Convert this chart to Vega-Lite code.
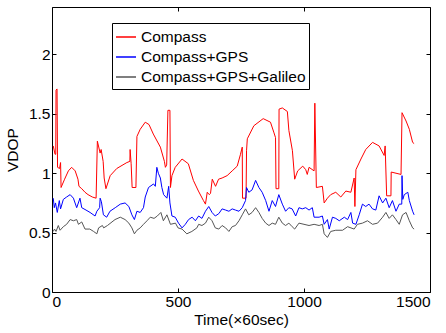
{
  "$schema": "https://vega.github.io/schema/vega-lite/v6.json",
  "autosize": "none",
  "width": 378,
  "height": 285,
  "padding": {"left": 52, "top": 7, "right": 16, "bottom": 41},
  "background": "white",
  "config": {
    "font": "Liberation Sans",
    "view": {"stroke": null},
    "axis": {
      "grid": false,
      "domainColor": "black",
      "domainWidth": 1,
      "tickColor": "black",
      "tickSize": -4,
      "labelPadding": 6,
      "labelFontSize": 15.5,
      "labelColor": "black",
      "titleFontSize": 15.5,
      "titleFontWeight": "normal",
      "titleColor": "black"
    },
    "legend": {
      "labelFontSize": 15.5,
      "labelColor": "black",
      "labelLimit": 400
    }
  },
  "datasets": {
    "d": [
      {"t": 5, "v": 1.23, "s": "Compass"},
      {"t": 12, "v": 1.16, "s": "Compass"},
      {"t": 15, "v": 1.16, "s": "Compass"},
      {"t": 16, "v": 1.70, "s": "Compass"},
      {"t": 20, "v": 1.71, "s": "Compass"},
      {"t": 22, "v": 1.05, "s": "Compass"},
      {"t": 30, "v": 1.04, "s": "Compass"},
      {"t": 34, "v": 1.09, "s": "Compass"},
      {"t": 36, "v": 0.88, "s": "Compass"},
      {"t": 50, "v": 0.95, "s": "Compass"},
      {"t": 65, "v": 1.02, "s": "Compass"},
      {"t": 78, "v": 1.05, "s": "Compass"},
      {"t": 92, "v": 1.02, "s": "Compass"},
      {"t": 103, "v": 0.95, "s": "Compass"},
      {"t": 107, "v": 0.89, "s": "Compass"},
      {"t": 118, "v": 0.87, "s": "Compass"},
      {"t": 131, "v": 0.84, "s": "Compass"},
      {"t": 143, "v": 0.82, "s": "Compass"},
      {"t": 160, "v": 0.80, "s": "Compass"},
      {"t": 175, "v": 0.79, "s": "Compass"},
      {"t": 180, "v": 1.27, "s": "Compass"},
      {"t": 191, "v": 1.17, "s": "Compass"},
      {"t": 195, "v": 1.20, "s": "Compass"},
      {"t": 203, "v": 1.10, "s": "Compass"},
      {"t": 207, "v": 0.96, "s": "Compass"},
      {"t": 214, "v": 0.87, "s": "Compass"},
      {"t": 231, "v": 0.98, "s": "Compass"},
      {"t": 257, "v": 1.04, "s": "Compass"},
      {"t": 297, "v": 1.09, "s": "Compass"},
      {"t": 309, "v": 1.10, "s": "Compass"},
      {"t": 310, "v": 1.20, "s": "Compass"},
      {"t": 314, "v": 1.08, "s": "Compass"},
      {"t": 318, "v": 0.88, "s": "Compass"},
      {"t": 333, "v": 0.88, "s": "Compass"},
      {"t": 337, "v": 1.31, "s": "Compass"},
      {"t": 350, "v": 1.37, "s": "Compass"},
      {"t": 370, "v": 1.43, "s": "Compass"},
      {"t": 385, "v": 1.41, "s": "Compass"},
      {"t": 402, "v": 1.33, "s": "Compass"},
      {"t": 430, "v": 1.22, "s": "Compass"},
      {"t": 446, "v": 1.10, "s": "Compass"},
      {"t": 450, "v": 1.05, "s": "Compass"},
      {"t": 455, "v": 1.07, "s": "Compass"},
      {"t": 460, "v": 1.53, "s": "Compass"},
      {"t": 468, "v": 1.53, "s": "Compass"},
      {"t": 470, "v": 0.88, "s": "Compass"},
      {"t": 476, "v": 0.98, "s": "Compass"},
      {"t": 489, "v": 1.05, "s": "Compass"},
      {"t": 516, "v": 1.12, "s": "Compass"},
      {"t": 541, "v": 1.08, "s": "Compass"},
      {"t": 561, "v": 0.94, "s": "Compass"},
      {"t": 581, "v": 0.85, "s": "Compass"},
      {"t": 601, "v": 0.77, "s": "Compass"},
      {"t": 609, "v": 0.74, "s": "Compass"},
      {"t": 616, "v": 0.84, "s": "Compass"},
      {"t": 624, "v": 0.82, "s": "Compass"},
      {"t": 629, "v": 0.83, "s": "Compass"},
      {"t": 636, "v": 0.95, "s": "Compass"},
      {"t": 649, "v": 0.89, "s": "Compass"},
      {"t": 661, "v": 0.95, "s": "Compass"},
      {"t": 675, "v": 0.96, "s": "Compass"},
      {"t": 695, "v": 0.98, "s": "Compass"},
      {"t": 715, "v": 1.02, "s": "Compass"},
      {"t": 735, "v": 1.06, "s": "Compass"},
      {"t": 748, "v": 1.16, "s": "Compass"},
      {"t": 755, "v": 1.22, "s": "Compass"},
      {"t": 756, "v": 0.79, "s": "Compass"},
      {"t": 770, "v": 0.79, "s": "Compass"},
      {"t": 772, "v": 1.19, "s": "Compass"},
      {"t": 775, "v": 1.29, "s": "Compass"},
      {"t": 801, "v": 1.40, "s": "Compass"},
      {"t": 838, "v": 1.46, "s": "Compass"},
      {"t": 867, "v": 1.43, "s": "Compass"},
      {"t": 881, "v": 1.34, "s": "Compass"},
      {"t": 887, "v": 1.30, "s": "Compass"},
      {"t": 889, "v": 0.87, "s": "Compass"},
      {"t": 900, "v": 0.87, "s": "Compass"},
      {"t": 901, "v": 1.54, "s": "Compass"},
      {"t": 914, "v": 1.55, "s": "Compass"},
      {"t": 934, "v": 1.52, "s": "Compass"},
      {"t": 940, "v": 1.36, "s": "Compass"},
      {"t": 954, "v": 1.19, "s": "Compass"},
      {"t": 963, "v": 0.95, "s": "Compass"},
      {"t": 975, "v": 1.02, "s": "Compass"},
      {"t": 995, "v": 1.06, "s": "Compass"},
      {"t": 1007, "v": 1.03, "s": "Compass"},
      {"t": 1013, "v": 0.99, "s": "Compass"},
      {"t": 1020, "v": 1.05, "s": "Compass"},
      {"t": 1040, "v": 1.02, "s": "Compass"},
      {"t": 1043, "v": 1.59, "s": "Compass"},
      {"t": 1049, "v": 0.88, "s": "Compass"},
      {"t": 1073, "v": 0.89, "s": "Compass"},
      {"t": 1080, "v": 0.75, "s": "Compass"},
      {"t": 1093, "v": 0.79, "s": "Compass"},
      {"t": 1106, "v": 0.82, "s": "Compass"},
      {"t": 1126, "v": 0.84, "s": "Compass"},
      {"t": 1146, "v": 0.80, "s": "Compass"},
      {"t": 1166, "v": 0.85, "s": "Compass"},
      {"t": 1186, "v": 0.84, "s": "Compass"},
      {"t": 1199, "v": 0.96, "s": "Compass"},
      {"t": 1202, "v": 0.72, "s": "Compass"},
      {"t": 1206, "v": 1.03, "s": "Compass"},
      {"t": 1226, "v": 1.12, "s": "Compass"},
      {"t": 1245, "v": 1.20, "s": "Compass"},
      {"t": 1272, "v": 1.26, "s": "Compass"},
      {"t": 1298, "v": 1.23, "s": "Compass"},
      {"t": 1318, "v": 1.15, "s": "Compass"},
      {"t": 1322, "v": 1.23, "s": "Compass"},
      {"t": 1328, "v": 0.81, "s": "Compass"},
      {"t": 1345, "v": 0.81, "s": "Compass"},
      {"t": 1346, "v": 1.01, "s": "Compass"},
      {"t": 1385, "v": 0.99, "s": "Compass"},
      {"t": 1389, "v": 1.51, "s": "Compass"},
      {"t": 1405, "v": 1.44, "s": "Compass"},
      {"t": 1418, "v": 1.37, "s": "Compass"},
      {"t": 1431, "v": 1.26, "s": "Compass"},
      {"t": 1437, "v": 1.25, "s": "Compass"},

      {"t": 5, "v": 0.79, "s": "Compass+GPS"},
      {"t": 9, "v": 0.71, "s": "Compass+GPS"},
      {"t": 14, "v": 0.75, "s": "Compass+GPS"},
      {"t": 21, "v": 0.67, "s": "Compass+GPS"},
      {"t": 29, "v": 0.77, "s": "Compass+GPS"},
      {"t": 34, "v": 0.70, "s": "Compass+GPS"},
      {"t": 45, "v": 0.78, "s": "Compass+GPS"},
      {"t": 58, "v": 0.80, "s": "Compass+GPS"},
      {"t": 72, "v": 0.82, "s": "Compass+GPS"},
      {"t": 85, "v": 0.79, "s": "Compass+GPS"},
      {"t": 98, "v": 0.71, "s": "Compass+GPS"},
      {"t": 111, "v": 0.79, "s": "Compass+GPS"},
      {"t": 118, "v": 0.71, "s": "Compass+GPS"},
      {"t": 135, "v": 0.69, "s": "Compass+GPS"},
      {"t": 151, "v": 0.67, "s": "Compass+GPS"},
      {"t": 171, "v": 0.64, "s": "Compass+GPS"},
      {"t": 178, "v": 0.68, "s": "Compass+GPS"},
      {"t": 189, "v": 0.71, "s": "Compass+GPS"},
      {"t": 191, "v": 0.79, "s": "Compass+GPS"},
      {"t": 196, "v": 0.76, "s": "Compass+GPS"},
      {"t": 204, "v": 0.65, "s": "Compass+GPS"},
      {"t": 217, "v": 0.63, "s": "Compass+GPS"},
      {"t": 230, "v": 0.68, "s": "Compass+GPS"},
      {"t": 251, "v": 0.71, "s": "Compass+GPS"},
      {"t": 271, "v": 0.74, "s": "Compass+GPS"},
      {"t": 290, "v": 0.75, "s": "Compass+GPS"},
      {"t": 305, "v": 0.72, "s": "Compass+GPS"},
      {"t": 317, "v": 0.65, "s": "Compass+GPS"},
      {"t": 327, "v": 0.61, "s": "Compass+GPS"},
      {"t": 337, "v": 0.68, "s": "Compass+GPS"},
      {"t": 350, "v": 0.67, "s": "Compass+GPS"},
      {"t": 363, "v": 0.71, "s": "Compass+GPS"},
      {"t": 370, "v": 0.80, "s": "Compass+GPS"},
      {"t": 383, "v": 0.88, "s": "Compass+GPS"},
      {"t": 403, "v": 0.91, "s": "Compass+GPS"},
      {"t": 410, "v": 0.89, "s": "Compass+GPS"},
      {"t": 416, "v": 1.05, "s": "Compass+GPS"},
      {"t": 422, "v": 1.00, "s": "Compass+GPS"},
      {"t": 430, "v": 0.96, "s": "Compass+GPS"},
      {"t": 436, "v": 0.88, "s": "Compass+GPS"},
      {"t": 443, "v": 0.82, "s": "Compass+GPS"},
      {"t": 456, "v": 0.79, "s": "Compass+GPS"},
      {"t": 463, "v": 0.89, "s": "Compass+GPS"},
      {"t": 468, "v": 0.75, "s": "Compass+GPS"},
      {"t": 476, "v": 0.64, "s": "Compass+GPS"},
      {"t": 489, "v": 0.63, "s": "Compass+GPS"},
      {"t": 502, "v": 0.58, "s": "Compass+GPS"},
      {"t": 516, "v": 0.54, "s": "Compass+GPS"},
      {"t": 529, "v": 0.57, "s": "Compass+GPS"},
      {"t": 542, "v": 0.61, "s": "Compass+GPS"},
      {"t": 556, "v": 0.63, "s": "Compass+GPS"},
      {"t": 569, "v": 0.60, "s": "Compass+GPS"},
      {"t": 582, "v": 0.64, "s": "Compass+GPS"},
      {"t": 595, "v": 0.62, "s": "Compass+GPS"},
      {"t": 609, "v": 0.68, "s": "Compass+GPS"},
      {"t": 622, "v": 0.72, "s": "Compass+GPS"},
      {"t": 635, "v": 0.67, "s": "Compass+GPS"},
      {"t": 648, "v": 0.64, "s": "Compass+GPS"},
      {"t": 662, "v": 0.66, "s": "Compass+GPS"},
      {"t": 675, "v": 0.70, "s": "Compass+GPS"},
      {"t": 689, "v": 0.69, "s": "Compass+GPS"},
      {"t": 702, "v": 0.68, "s": "Compass+GPS"},
      {"t": 715, "v": 0.70, "s": "Compass+GPS"},
      {"t": 728, "v": 0.69, "s": "Compass+GPS"},
      {"t": 742, "v": 0.68, "s": "Compass+GPS"},
      {"t": 755, "v": 0.71, "s": "Compass+GPS"},
      {"t": 768, "v": 0.77, "s": "Compass+GPS"},
      {"t": 772, "v": 0.88, "s": "Compass+GPS"},
      {"t": 781, "v": 0.84, "s": "Compass+GPS"},
      {"t": 794, "v": 0.86, "s": "Compass+GPS"},
      {"t": 808, "v": 0.94, "s": "Compass+GPS"},
      {"t": 821, "v": 0.88, "s": "Compass+GPS"},
      {"t": 834, "v": 0.84, "s": "Compass+GPS"},
      {"t": 848, "v": 0.77, "s": "Compass+GPS"},
      {"t": 861, "v": 0.68, "s": "Compass+GPS"},
      {"t": 874, "v": 0.77, "s": "Compass+GPS"},
      {"t": 887, "v": 0.72, "s": "Compass+GPS"},
      {"t": 900, "v": 0.82, "s": "Compass+GPS"},
      {"t": 914, "v": 0.74, "s": "Compass+GPS"},
      {"t": 927, "v": 0.68, "s": "Compass+GPS"},
      {"t": 940, "v": 0.71, "s": "Compass+GPS"},
      {"t": 953, "v": 0.70, "s": "Compass+GPS"},
      {"t": 967, "v": 0.64, "s": "Compass+GPS"},
      {"t": 980, "v": 0.71, "s": "Compass+GPS"},
      {"t": 993, "v": 0.70, "s": "Compass+GPS"},
      {"t": 1007, "v": 0.71, "s": "Compass+GPS"},
      {"t": 1020, "v": 0.69, "s": "Compass+GPS"},
      {"t": 1033, "v": 0.71, "s": "Compass+GPS"},
      {"t": 1040, "v": 0.63, "s": "Compass+GPS"},
      {"t": 1060, "v": 0.63, "s": "Compass+GPS"},
      {"t": 1073, "v": 0.64, "s": "Compass+GPS"},
      {"t": 1080, "v": 0.57, "s": "Compass+GPS"},
      {"t": 1093, "v": 0.61, "s": "Compass+GPS"},
      {"t": 1100, "v": 0.53, "s": "Compass+GPS"},
      {"t": 1113, "v": 0.63, "s": "Compass+GPS"},
      {"t": 1126, "v": 0.62, "s": "Compass+GPS"},
      {"t": 1140, "v": 0.60, "s": "Compass+GPS"},
      {"t": 1160, "v": 0.63, "s": "Compass+GPS"},
      {"t": 1173, "v": 0.61, "s": "Compass+GPS"},
      {"t": 1186, "v": 0.67, "s": "Compass+GPS"},
      {"t": 1193, "v": 0.58, "s": "Compass+GPS"},
      {"t": 1206, "v": 0.57, "s": "Compass+GPS"},
      {"t": 1219, "v": 0.65, "s": "Compass+GPS"},
      {"t": 1232, "v": 0.74, "s": "Compass+GPS"},
      {"t": 1245, "v": 0.72, "s": "Compass+GPS"},
      {"t": 1258, "v": 0.74, "s": "Compass+GPS"},
      {"t": 1272, "v": 0.70, "s": "Compass+GPS"},
      {"t": 1285, "v": 0.69, "s": "Compass+GPS"},
      {"t": 1298, "v": 0.81, "s": "Compass+GPS"},
      {"t": 1312, "v": 0.75, "s": "Compass+GPS"},
      {"t": 1325, "v": 0.79, "s": "Compass+GPS"},
      {"t": 1338, "v": 0.71, "s": "Compass+GPS"},
      {"t": 1351, "v": 0.77, "s": "Compass+GPS"},
      {"t": 1365, "v": 0.68, "s": "Compass+GPS"},
      {"t": 1378, "v": 0.74, "s": "Compass+GPS"},
      {"t": 1388, "v": 0.74, "s": "Compass+GPS"},
      {"t": 1389, "v": 0.98, "s": "Compass+GPS"},
      {"t": 1392, "v": 0.78, "s": "Compass+GPS"},
      {"t": 1398, "v": 0.82, "s": "Compass+GPS"},
      {"t": 1412, "v": 0.84, "s": "Compass+GPS"},
      {"t": 1418, "v": 0.77, "s": "Compass+GPS"},
      {"t": 1431, "v": 0.68, "s": "Compass+GPS"},
      {"t": 1437, "v": 0.65, "s": "Compass+GPS"},

      {"t": 5, "v": 0.51, "s": "Compass+GPS+Galileo"},
      {"t": 10, "v": 0.53, "s": "Compass+GPS+Galileo"},
      {"t": 16, "v": 0.51, "s": "Compass+GPS+Galileo"},
      {"t": 25, "v": 0.56, "s": "Compass+GPS+Galileo"},
      {"t": 32, "v": 0.52, "s": "Compass+GPS+Galileo"},
      {"t": 45, "v": 0.55, "s": "Compass+GPS+Galileo"},
      {"t": 58, "v": 0.57, "s": "Compass+GPS+Galileo"},
      {"t": 72, "v": 0.61, "s": "Compass+GPS+Galileo"},
      {"t": 85, "v": 0.60, "s": "Compass+GPS+Galileo"},
      {"t": 98, "v": 0.61, "s": "Compass+GPS+Galileo"},
      {"t": 105, "v": 0.57, "s": "Compass+GPS+Galileo"},
      {"t": 118, "v": 0.59, "s": "Compass+GPS+Galileo"},
      {"t": 131, "v": 0.53, "s": "Compass+GPS+Galileo"},
      {"t": 150, "v": 0.53, "s": "Compass+GPS+Galileo"},
      {"t": 165, "v": 0.51, "s": "Compass+GPS+Galileo"},
      {"t": 178, "v": 0.49, "s": "Compass+GPS+Galileo"},
      {"t": 185, "v": 0.54, "s": "Compass+GPS+Galileo"},
      {"t": 200, "v": 0.56, "s": "Compass+GPS+Galileo"},
      {"t": 205, "v": 0.54, "s": "Compass+GPS+Galileo"},
      {"t": 220, "v": 0.56, "s": "Compass+GPS+Galileo"},
      {"t": 250, "v": 0.61, "s": "Compass+GPS+Galileo"},
      {"t": 271, "v": 0.63, "s": "Compass+GPS+Galileo"},
      {"t": 290, "v": 0.61, "s": "Compass+GPS+Galileo"},
      {"t": 305, "v": 0.58, "s": "Compass+GPS+Galileo"},
      {"t": 317, "v": 0.54, "s": "Compass+GPS+Galileo"},
      {"t": 327, "v": 0.49, "s": "Compass+GPS+Galileo"},
      {"t": 337, "v": 0.52, "s": "Compass+GPS+Galileo"},
      {"t": 350, "v": 0.54, "s": "Compass+GPS+Galileo"},
      {"t": 363, "v": 0.57, "s": "Compass+GPS+Galileo"},
      {"t": 377, "v": 0.60, "s": "Compass+GPS+Galileo"},
      {"t": 390, "v": 0.63, "s": "Compass+GPS+Galileo"},
      {"t": 405, "v": 0.62, "s": "Compass+GPS+Galileo"},
      {"t": 418, "v": 0.64, "s": "Compass+GPS+Galileo"},
      {"t": 432, "v": 0.67, "s": "Compass+GPS+Galileo"},
      {"t": 442, "v": 0.60, "s": "Compass+GPS+Galileo"},
      {"t": 456, "v": 0.65, "s": "Compass+GPS+Galileo"},
      {"t": 470, "v": 0.57, "s": "Compass+GPS+Galileo"},
      {"t": 490, "v": 0.58, "s": "Compass+GPS+Galileo"},
      {"t": 500, "v": 0.54, "s": "Compass+GPS+Galileo"},
      {"t": 516, "v": 0.53, "s": "Compass+GPS+Galileo"},
      {"t": 535, "v": 0.49, "s": "Compass+GPS+Galileo"},
      {"t": 555, "v": 0.51, "s": "Compass+GPS+Galileo"},
      {"t": 575, "v": 0.54, "s": "Compass+GPS+Galileo"},
      {"t": 582, "v": 0.57, "s": "Compass+GPS+Galileo"},
      {"t": 595, "v": 0.56, "s": "Compass+GPS+Galileo"},
      {"t": 609, "v": 0.58, "s": "Compass+GPS+Galileo"},
      {"t": 622, "v": 0.63, "s": "Compass+GPS+Galileo"},
      {"t": 635, "v": 0.60, "s": "Compass+GPS+Galileo"},
      {"t": 648, "v": 0.54, "s": "Compass+GPS+Galileo"},
      {"t": 662, "v": 0.53, "s": "Compass+GPS+Galileo"},
      {"t": 675, "v": 0.56, "s": "Compass+GPS+Galileo"},
      {"t": 689, "v": 0.54, "s": "Compass+GPS+Galileo"},
      {"t": 702, "v": 0.51, "s": "Compass+GPS+Galileo"},
      {"t": 715, "v": 0.55, "s": "Compass+GPS+Galileo"},
      {"t": 728, "v": 0.56, "s": "Compass+GPS+Galileo"},
      {"t": 742, "v": 0.60, "s": "Compass+GPS+Galileo"},
      {"t": 755, "v": 0.65, "s": "Compass+GPS+Galileo"},
      {"t": 768, "v": 0.70, "s": "Compass+GPS+Galileo"},
      {"t": 781, "v": 0.65, "s": "Compass+GPS+Galileo"},
      {"t": 794, "v": 0.67, "s": "Compass+GPS+Galileo"},
      {"t": 808, "v": 0.71, "s": "Compass+GPS+Galileo"},
      {"t": 821, "v": 0.67, "s": "Compass+GPS+Galileo"},
      {"t": 834, "v": 0.62, "s": "Compass+GPS+Galileo"},
      {"t": 848, "v": 0.58, "s": "Compass+GPS+Galileo"},
      {"t": 861, "v": 0.56, "s": "Compass+GPS+Galileo"},
      {"t": 874, "v": 0.58, "s": "Compass+GPS+Galileo"},
      {"t": 887, "v": 0.57, "s": "Compass+GPS+Galileo"},
      {"t": 900, "v": 0.63, "s": "Compass+GPS+Galileo"},
      {"t": 914, "v": 0.58, "s": "Compass+GPS+Galileo"},
      {"t": 927, "v": 0.56, "s": "Compass+GPS+Galileo"},
      {"t": 940, "v": 0.58, "s": "Compass+GPS+Galileo"},
      {"t": 953, "v": 0.55, "s": "Compass+GPS+Galileo"},
      {"t": 963, "v": 0.53, "s": "Compass+GPS+Galileo"},
      {"t": 980, "v": 0.58, "s": "Compass+GPS+Galileo"},
      {"t": 1000, "v": 0.57, "s": "Compass+GPS+Galileo"},
      {"t": 1020, "v": 0.56, "s": "Compass+GPS+Galileo"},
      {"t": 1040, "v": 0.57, "s": "Compass+GPS+Galileo"},
      {"t": 1060, "v": 0.56, "s": "Compass+GPS+Galileo"},
      {"t": 1073, "v": 0.57, "s": "Compass+GPS+Galileo"},
      {"t": 1080, "v": 0.49, "s": "Compass+GPS+Galileo"},
      {"t": 1093, "v": 0.46, "s": "Compass+GPS+Galileo"},
      {"t": 1106, "v": 0.51, "s": "Compass+GPS+Galileo"},
      {"t": 1126, "v": 0.52, "s": "Compass+GPS+Galileo"},
      {"t": 1153, "v": 0.52, "s": "Compass+GPS+Galileo"},
      {"t": 1173, "v": 0.55, "s": "Compass+GPS+Galileo"},
      {"t": 1199, "v": 0.53, "s": "Compass+GPS+Galileo"},
      {"t": 1212, "v": 0.57, "s": "Compass+GPS+Galileo"},
      {"t": 1232, "v": 0.58, "s": "Compass+GPS+Galileo"},
      {"t": 1252, "v": 0.60, "s": "Compass+GPS+Galileo"},
      {"t": 1272, "v": 0.57, "s": "Compass+GPS+Galileo"},
      {"t": 1292, "v": 0.58, "s": "Compass+GPS+Galileo"},
      {"t": 1312, "v": 0.63, "s": "Compass+GPS+Galileo"},
      {"t": 1325, "v": 0.67, "s": "Compass+GPS+Galileo"},
      {"t": 1338, "v": 0.62, "s": "Compass+GPS+Galileo"},
      {"t": 1351, "v": 0.65, "s": "Compass+GPS+Galileo"},
      {"t": 1365, "v": 0.61, "s": "Compass+GPS+Galileo"},
      {"t": 1378, "v": 0.57, "s": "Compass+GPS+Galileo"},
      {"t": 1391, "v": 0.65, "s": "Compass+GPS+Galileo"},
      {"t": 1405, "v": 0.67, "s": "Compass+GPS+Galileo"},
      {"t": 1418, "v": 0.60, "s": "Compass+GPS+Galileo"},
      {"t": 1431, "v": 0.54, "s": "Compass+GPS+Galileo"},
      {"t": 1437, "v": 0.53, "s": "Compass+GPS+Galileo"}
    ]
  },
  "data": {"name": "d"},
  "layer": [
    {
      "mark": {"type": "line", "strokeWidth": 1, "interpolate": "linear"},
      "encoding": {
        "x": {
          "field": "t", "type": "quantitative",
          "scale": {"domain": [0, 1500], "nice": false},
          "axis": {"values": [0, 500, 1000, 1500], "format": "d", "title": "Time(×60sec)", "titlePadding": 3}
        },
        "y": {
          "field": "v", "type": "quantitative",
          "scale": {"domain": [0, 2.4], "nice": false, "zero": false},
          "axis": {"values": [0, 0.5, 1, 1.5, 2], "format": "~g", "title": "VDOP", "titlePadding": 8}
        },
        "color": {
          "field": "s", "type": "nominal",
          "scale": {
            "domain": ["Compass", "Compass+GPS", "Compass+GPS+Galileo"],
            "range": ["#ff0000", "#0000ff", "#555555"]
          },
          "legend": {
            "title": null,
            "orient": "none",
            "legendX": 60,
            "legendY": 16,
            "direction": "vertical",
            "symbolType": "stroke",
            "symbolSize": 400,
            "symbolStrokeWidth": 1.5,
            "labelOffset": 4,
            "rowPadding": 0,
            "padding": 3,
            "strokeColor": "black",
            "fillColor": "white"
          }
        }
      }
    },
    {
      "mark": {"type": "point", "opacity": 0},
      "encoding": {
        "x": {
          "field": "t", "type": "quantitative",
          "axis": {"orient": "top", "values": [0, 500, 1000, 1500], "labels": false, "title": null}
        },
        "y": {
          "field": "v", "type": "quantitative",
          "axis": {"orient": "right", "values": [0, 0.5, 1, 1.5, 2], "labels": false, "title": null}
        }
      }
    }
  ],
  "resolve": {"axis": {"x": "independent", "y": "independent"}}
}
